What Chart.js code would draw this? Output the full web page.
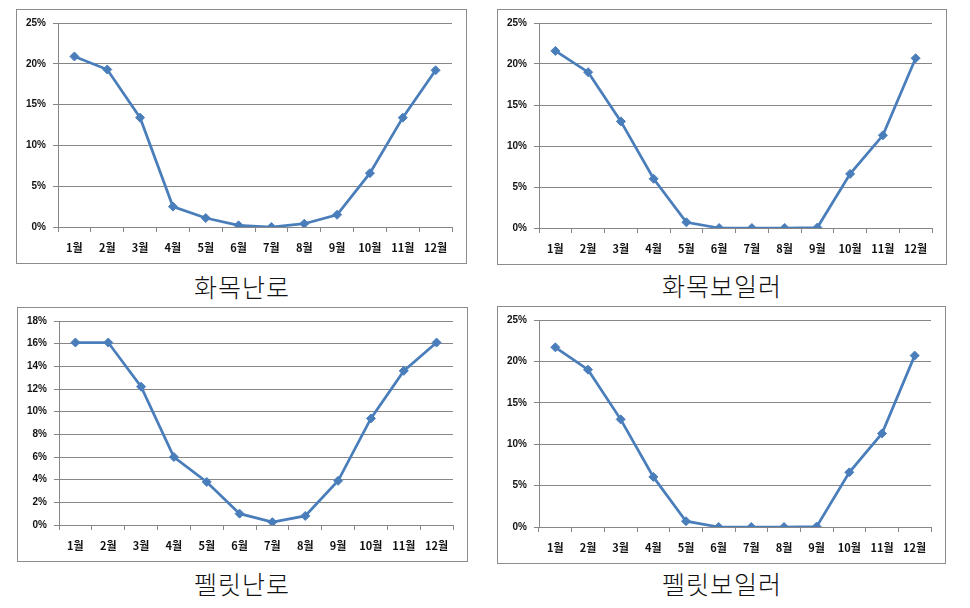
<!DOCTYPE html>
<html>
<head>
<meta charset="utf-8">
<script src="https://cdn.jsdelivr.net/npm/chart.js@4"></script>
<style>
  body { margin: 0; background: #fff; width: 970px; height: 608px; position: relative; overflow: hidden; }
  .box { position: absolute; border: 1px solid #8c8c8c; box-sizing: border-box; background: #fff; }
  .title { position: absolute; width: 300px; text-align: center; font-family: "Noto Sans CJK KR", sans-serif; font-weight: 300; font-size: 25px; letter-spacing: 1px; color: #111; line-height: 30px; }
</style>
</head>
<body>
<div class="box" style="left:16px;top:9px;width:451px;height:255px"><canvas id="c1"></canvas></div>
<div class="box" style="left:497px;top:9px;width:450px;height:256px"><canvas id="c2"></canvas></div>
<div class="box" style="left:17px;top:307px;width:451px;height:255px"><canvas id="c3"></canvas></div>
<div class="box" style="left:497px;top:306px;width:449px;height:258px"><canvas id="c4"></canvas></div>
<div class="title" style="left:92px;top:271px">화목난로</div>
<div class="title" style="left:572px;top:270px">화목보일러</div>
<div class="title" style="left:92px;top:568px">펠릿난로</div>
<div class="title" style="left:572px;top:568px">펠릿보일러</div>
<script>
// monthly share (%)
const months = ['1월', '2월', '3월', '4월', '5월', '6월', '7월', '8월', '9월', '10월', '11월', '12월'];
const woodStove = [20.9, 19.3, 13.4, 2.5, 1.1, 0.2, 0.0, 0.4, 1.5, 6.6, 13.4, 19.2];
const woodBoiler = [21.6, 19.0, 13.0, 6.0, 0.7, 0.0, 0.0, 0.0, 0.05, 6.6, 11.3, 20.7];
const pelletStove = [16.1, 16.1, 12.2, 6.0, 3.8, 1.0, 0.25, 0.8, 3.9, 9.4, 13.6, 16.1];
const pelletBoiler = [21.7, 19.0, 13.0, 6.05, 0.7, 0.0, 0.0, 0.0, 0.05, 6.6, 11.3, 20.7];

const lineColor = '#4a7ebb';
const gridColor = '#868686';

function makeChart(id, values, yMax, yStep) {
    const ctx = document.getElementById(id).getContext('2d');
    return new Chart(ctx, {
        type: 'line',
        data: {
            labels: months,
            datasets: [{
                data: values,
                borderColor: lineColor,
                backgroundColor: lineColor,
                borderWidth: 2.75,
                pointStyle: 'rectRot',
                pointRadius: 4.5,
                pointBorderWidth: 1,
                tension: 0
            }]
        },
        options: {
            responsive: true,
            maintainAspectRatio: false,
            animation: false,
            layout: { padding: { top: 13, right: 14, left: 0, bottom: 0 } },
            plugins: { legend: { display: false }, tooltip: { enabled: false } },
            scales: {
                x: {
                    offset: true,
                    grid: { offset: true, drawOnChartArea: false, color: gridColor, tickLength: 5 },
                    border: { color: gridColor },
                    ticks: {
                        color: '#111',
                        padding: 9,
                        maxRotation: 0,
                        font: { family: '"Noto Sans CJK KR", sans-serif', size: 11, weight: 'bold' }
                    },
                    afterFit: s => { s.height = 36; }
                },
                y: {
                    min: 0,
                    max: yMax,
                    grid: { color: gridColor, tickLength: 5 },
                    border: { color: gridColor },
                    ticks: {
                        stepSize: yStep,
                        color: '#111',
                        padding: 7,
                        callback: v => v + '%',
                        font: { family: 'Arial, "Liberation Sans", sans-serif', size: 10, weight: 'bold' }
                    },
                    afterFit: s => { s.width = 41; }
                }
            }
        }
    });
}

makeChart('c1', woodStove, 25, 5);
makeChart('c2', woodBoiler, 25, 5);
makeChart('c3', pelletStove, 18, 2);
makeChart('c4', pelletBoiler, 25, 5);
</script>
</body>
</html>
